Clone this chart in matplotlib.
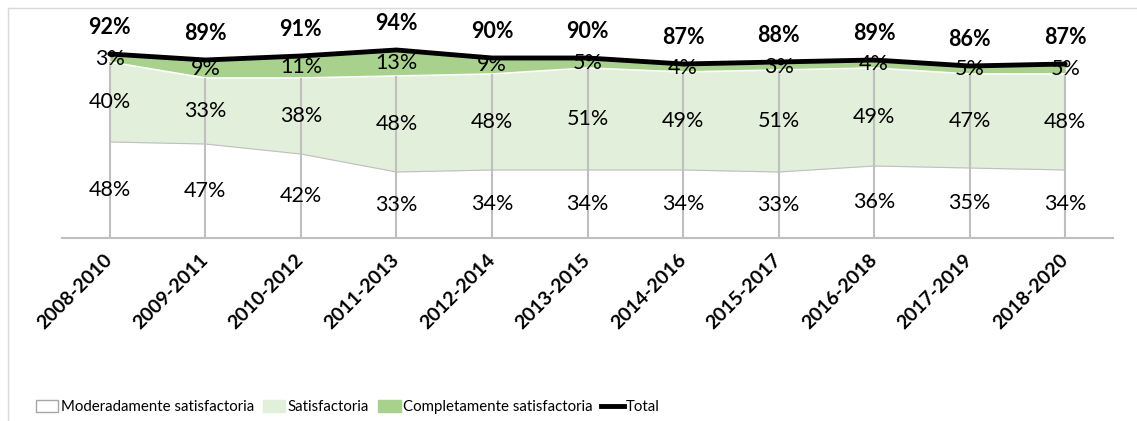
import matplotlib
matplotlib.use("Agg")
import matplotlib.pyplot as plt
import numpy as np
from matplotlib.lines import Line2D
from matplotlib.patches import Patch

plt.rcParams["font.family"] = ["Lato", "DejaVu Sans"]

periods = ["2008-2010", "2009-2011", "2010-2012", "2011-2013", "2012-2014", "2013-2015",
           "2014-2016", "2015-2017", "2016-2018", "2017-2019", "2018-2020"]
moderada = [48, 47, 42, 33, 34, 34, 34, 33, 36, 35, 34]
satisf = [40, 33, 38, 48, 48, 51, 49, 51, 49, 47, 48]
complet = [3, 9, 11, 13, 9, 5, 4, 3, 4, 5, 5]
total = [92, 89, 91, 94, 90, 90, 87, 88, 89, 86, 87]

C_SAT = "#E2EFDA"
C_COMP = "#A9D18E"
C_GRID = "#BFBFBF"

x = np.arange(len(periods))
mod = np.array(moderada)
sat_top = mod + np.array(satisf)
comp_top = sat_top + np.array(complet)

W, H = 1137, 421
fig = plt.figure(figsize=(W / 100, H / 100), dpi=100)
ax = fig.add_axes([62 / W, (H - 238) / H, (1113 - 62) / W, 200 / H])

ax.fill_between(x, 0, mod, color="white", zorder=1)
ax.plot(x, mod, color=C_GRID, lw=0.8, zorder=2)
ax.fill_between(x, mod, sat_top, color=C_SAT, lw=0, zorder=1)
ax.fill_between(x, sat_top, comp_top, color=C_COMP, lw=0, zorder=1)
ax.plot(x, sat_top, color="white", lw=1.2, zorder=2)

ax.vlines(x, 0, sat_top, color=C_GRID, lw=1.5, zorder=3)
ax.plot(x, total, color="black", lw=3.5, solid_capstyle="round", zorder=4)

for i in range(len(x)):
    ax.text(x[i], mod[i] / 2, f"{moderada[i]}%", ha="center", va="center", fontsize=15.5, zorder=5)
    ax.text(x[i], mod[i] + satisf[i] / 2, f"{satisf[i]}%", ha="center", va="center", fontsize=15.5, zorder=5)
    ax.text(x[i], sat_top[i] + complet[i] / 2, f"{complet[i]}%", ha="center", va="center", fontsize=15.5, zorder=5)
    ax.text(x[i], total[i] + 13.5, f"{total[i]}%", ha="center", va="center", fontsize=15.5,
            fontweight="bold", zorder=5)

ax.set_xlim(-0.5, len(x) - 0.5)
ax.set_ylim(0, 100)
ax.set_xticks(x)
ax.set_xticklabels(periods, rotation=45, ha="right", va="center", rotation_mode="anchor",
                   fontsize=14, fontweight="bold")
ax.tick_params(axis="x", length=0, pad=14)
ax.set_yticks([])
for s in ["left", "right", "top"]:
    ax.spines[s].set_visible(False)
ax.spines["bottom"].set_color(C_GRID)
ax.spines["bottom"].set_linewidth(1.5)
ax.patch.set_alpha(0)

# outer frame
fig.add_artist(Line2D([8 / W, 8 / W], [0, 1 - 8 / H], transform=fig.transFigure, color="#D9D9D9", lw=1))
fig.add_artist(Line2D([8 / W, 1], [1 - 8 / H, 1 - 8 / H], transform=fig.transFigure, color="#D9D9D9", lw=1))

handles = [
    Patch(facecolor="white", edgecolor="#A6A6A6", label="Moderadamente satisfactoria"),
    Patch(facecolor=C_SAT, edgecolor=C_SAT, label="Satisfactoria"),
    Patch(facecolor=C_COMP, edgecolor=C_COMP, label="Completamente satisfactoria"),
    Line2D([0], [0], color="black", lw=3.5, label="Total"),
]
fig.legend(handles=handles, loc="center", bbox_to_anchor=(348 / W, (H - 407) / H), ncol=4,
           frameon=False, fontsize=10.8, handlelength=1.5, handleheight=0.8,
           handletextpad=0.15, columnspacing=0.6, borderaxespad=0, borderpad=0)

fig.savefig("out.png", dpi=100)
